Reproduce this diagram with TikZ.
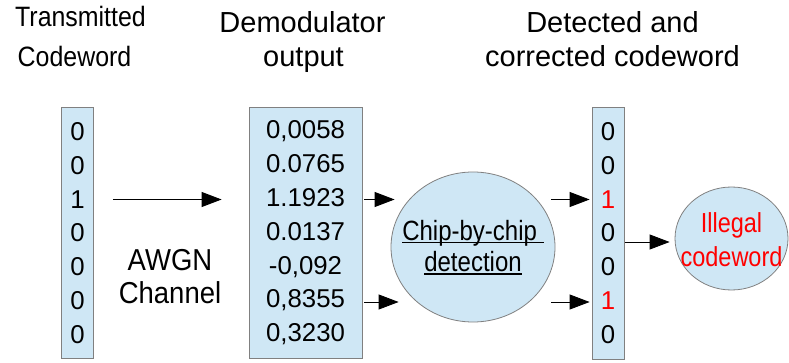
\documentclass[tikz,border=0pt]{standalone}
\usepackage{fontspec}
\setmainfont{Liberation Sans}
\newcommand{\myul}[1]{\setbox0=\hbox{#1}\rlap{\rule[-2.5pt]{\wd0}{1.1pt}}\box0}
\usetikzlibrary{arrows.meta,shapes.geometric}
\definecolor{boxfill}{RGB}{207,231,245}
\definecolor{boxline}{RGB}{128,128,128}
\definecolor{errred}{RGB}{255,0,0}
\begin{document}
\begin{tikzpicture}[x=1pt,y=-1pt,
  cell/.style={draw=boxline, fill=boxfill, line width=0.8pt, inner sep=0pt, align=center,
    font=\fontsize{25.8}{33.8}\selectfont},
  blob/.style={ellipse, draw=boxline, fill=boxfill, line width=0.8pt, inner sep=0pt},
  arr/.style={-{Triangle[length=20pt,width=15pt]}, line width=0.9pt},
  title/.style={anchor=base, inner sep=0pt, font=\fontsize{29}{34}\selectfont},
  ttitle/.style={anchor=base, inner sep=0pt, font=\fontsize{28}{34}\selectfont, xscale=0.89, transform shape}]
\useasboundingbox (0,0) rectangle (789,363);

% titles
\node[ttitle] (t1a) at (80.5,27) {Transmitted};
\node[ttitle] (t1b) at (74.5,67) {Codeword};
\node[title] (t2a) at (302.5,33) {Demodulator};
\node[title] (t2b) at (303.5,67) {output};
\node[title] (t3a) at (612.5,33) {Detected and};
\node[title] (t3b) at (612.5,67) {corrected codeword};

% boxes
\node[cell, minimum width=32pt, minimum height=251pt] (tx) at (77.5,233)
  {0\\0\\1\\0\\0\\0\\0};
\node[cell, minimum width=113pt, minimum height=251pt] (dm) at (305.5,233)
  {0,0058\\0.0765\\1.1923\\0.0137\\-0,092\\0,8355\\0,3230};
\node[cell, minimum width=32pt, minimum height=252pt] (rx) at (608,233)
  {0\\0\\\textcolor{errred}{1}\\0\\0\\\textcolor{errred}{1}\\0};

% ellipses
\node[blob, minimum width=164pt, minimum height=150pt] (chip) at (473,247) {};
\node[align=center, inner sep=0pt, font=\fontsize{24}{27}\selectfont, yscale=1.16, transform shape] (chiptxt) at (473,247.5)
  {\myul{Chip-by-chip\ }\\\myul{detection}};
\node[blob, minimum width=113pt, minimum height=103pt] (ill) at (731.5,238.5) {};
\node[align=center, inner sep=0pt, text=errred, font=\fontsize{23.5}{29}\selectfont, yscale=1.17, transform shape] (illtxt) at (731.5,240)
  {Illegal\\codeword};

% channel label
\node[align=center, inner sep=0pt, font=\fontsize{27.5}{30}\selectfont, yscale=1.1, transform shape] (awgn) at (170,277)
  {AWGN\\Channel};

% helper coordinates
\coordinate (yA) at (0,199.5);
\coordinate (yB) at (0,302);
\coordinate (yC) at (0,242);

% connectors
\draw[arr, shorten <=19pt, shorten >=27pt] (tx.east |- yA) -- (dm.west |- yA);
\draw[arr, shorten <=2pt, shorten >=-4pt] (dm.east |- yA) -- (chip.west |- yA);
\draw[arr, shorten <=2pt, shorten >=-8pt] (dm.east |- yB) -- (chip.west |- yB);
\draw[arr, shorten <=-4pt, shorten >=2pt] (chip.east |- yA) -- (rx.west |- yA);
\draw[arr, shorten <=-4pt, shorten >=2pt] (chip.east |- yB) -- (rx.west |- yB);
\draw[arr, shorten <=1pt, shorten >=5pt] (rx.east |- yC) -- (ill.west |- yC);
\end{tikzpicture}
\end{document}
